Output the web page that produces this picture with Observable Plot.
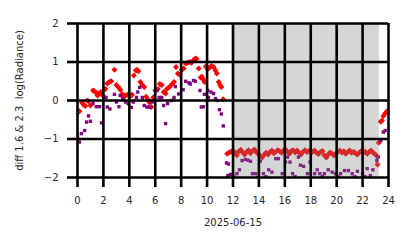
<!DOCTYPE html>
<html><head><meta charset="utf-8">
<script src="https://cdn.jsdelivr.net/npm/d3@7"></script>
<script src="https://cdn.jsdelivr.net/npm/@observablehq/plot@0.6"></script>
<style>body{margin:0;background:#fff}</style>
</head><body><div id="chart"></div>
<script>
const xTicks = [0, 2, 4, 6, 8, 10, 12, 14, 16, 18, 20, 22, 24];
const yTicks = [-2, -1, 0, 1, 2];
const xLabel = "2025-06-15";
const yLabel = "diff 1.6 & 2.3  log(Radiance)";
const nightBand = [{start: 11.95, end: 23.3}];

const redHours = [0.05,0.15,0.35,0.5,0.6,0.75,0.85,1.0,1.2,1.3,1.45,1.55,1.7,1.8,1.95,2.15,2.3,2.45,2.6,2.85,3.0,3.15,3.3,3.45,3.55,3.7,3.85,3.95,4.1,4.2,4.35,4.5,4.6,4.7,4.85,5.0,5.15,5.3,5.45,5.55,5.7,5.85,6.0,6.2,6.35,6.5,6.65,6.8,6.9,7.1,7.3,7.45,7.6,7.75,7.9,8.05,8.2,8.35,8.5,8.65,8.8,8.95,9.1,9.2,9.35,9.5,9.6,9.7,9.8,9.9,10.05,10.2,10.35,10.5,10.65,10.75,10.9,11.0,11.1,11.25,
11.55,11.7,11.85,12.0,12.15,12.3,12.45,12.6,12.75,12.9,13.05,13.2,13.35,13.5,13.65,13.8,13.95,14.1,14.25,14.4,14.55,14.7,14.85,15.0,15.15,15.3,15.45,15.6,15.75,15.9,16.05,16.2,16.35,16.5,16.65,16.8,16.95,17.1,17.25,17.4,17.55,17.7,17.85,18.0,18.15,18.3,18.45,18.6,18.75,18.9,19.05,19.2,19.35,19.5,19.65,19.8,19.95,20.1,20.25,20.4,20.55,20.7,20.85,21.0,21.15,21.3,21.45,21.6,21.75,21.9,22.05,22.2,22.35,22.5,22.65,22.8,22.95,23.1,
23.15,23.25,23.4,23.5,23.6,23.75,23.9];
const redValues = [-0.30,-0.28,-0.06,-0.12,-0.14,0.0,-0.02,-0.13,0.26,0.24,0.20,0.13,0.18,0.22,0.13,0.30,0.44,0.48,0.50,0.80,0.40,0.35,0.28,0.17,0.08,0.13,0.15,0.13,0.12,0.15,0.65,0.78,0.80,0.76,0.48,0.40,0.35,0.10,0.02,-0.05,-0.17,0.08,0.26,0.30,0.43,0.40,0.22,0.18,0.30,0.35,0.43,0.48,0.87,0.70,0.66,0.80,0.83,0.96,0.98,1.0,0.98,1.05,1.09,1.08,0.83,0.60,0.62,0.55,0.48,0.88,0.82,0.86,0.90,0.87,0.78,0.70,0.48,0.40,0.35,0.03,
-1.38,-1.35,-1.33,-1.30,-1.36,-1.42,-1.32,-1.28,-1.35,-1.40,-1.33,-1.29,-1.37,-1.31,-1.27,-1.34,-1.39,-1.44,-1.48,-1.41,-1.36,-1.40,-1.34,-1.30,-1.37,-1.33,-1.29,-1.32,-1.36,-1.30,-1.27,-1.33,-1.38,-1.31,-1.29,-1.35,-1.30,-1.36,-1.40,-1.33,-1.29,-1.34,-1.31,-1.35,-1.33,-1.30,-1.36,-1.39,-1.34,-1.31,-1.42,-1.48,-1.40,-1.35,-1.38,-1.43,-1.37,-1.33,-1.30,-1.35,-1.32,-1.38,-1.34,-1.30,-1.36,-1.33,-1.37,-1.40,-1.35,-1.31,-1.36,-1.33,-1.38,-1.34,-1.30,-1.35,-1.39,-1.44,
-1.66,-1.10,-0.55,-0.52,-0.40,-0.33,-0.27];

const purpleHours = [0.0,0.15,0.3,0.55,0.7,0.85,1.0,1.2,1.45,1.7,1.85,2.2,2.3,2.5,2.85,3.0,3.2,3.3,3.5,3.7,3.9,4.15,4.3,4.55,4.65,4.8,5.0,5.15,5.35,5.55,5.75,5.9,6.15,6.3,6.5,6.65,6.8,6.95,7.25,7.45,7.55,7.8,8.15,8.35,8.6,8.7,8.95,9.1,9.45,9.55,9.7,9.8,10.05,10.1,10.3,10.5,10.65,10.8,10.95,11.1,11.25,11.5,11.6,11.65,
11.8,12.05,12.3,12.5,12.7,12.95,13.15,13.35,13.5,13.75,13.9,14.1,14.35,14.55,14.75,15.0,15.3,15.5,15.8,16.05,16.2,16.4,16.6,16.8,17.05,17.2,17.45,17.75,17.95,18.3,18.5,18.7,18.9,19.05,19.35,19.65,19.9,20.1,20.3,20.6,20.9,21.2,21.4,21.6,22.0,22.2,22.35,22.6,22.8,23.1,23.2,23.4,23.6,23.75];
const purpleValues = [-0.95,-1.08,-0.86,-0.78,-0.56,-0.40,-0.54,-0.08,-0.16,-0.16,-0.58,0.08,-0.17,-0.22,0.16,-0.04,-0.16,0.13,0.04,-0.04,-0.08,-0.18,-0.04,0.08,0.22,0.34,0.08,-0.13,-0.17,-0.17,-0.04,0.0,0.26,0.08,0.08,-0.13,-0.60,-0.08,0.0,0.08,0.36,0.17,0.28,0.50,0.46,0.43,0.52,0.50,0.26,-0.17,-0.16,0.16,0.26,0.08,0.22,0.18,0.05,0.0,-0.24,-0.35,-0.66,-1.62,-1.95,-1.65,
-1.92,-1.98,-1.90,-1.80,-1.56,-1.53,-1.55,-1.58,-1.90,-1.90,-2.0,-1.58,-1.90,-1.98,-1.80,-1.86,-1.51,-1.51,-1.90,-1.60,-1.47,-1.60,-1.90,-1.98,-1.47,-1.68,-1.71,-1.90,-1.60,-1.90,-1.80,-1.90,-1.98,-1.90,-1.80,-1.86,-1.90,-1.98,-1.90,-1.82,-1.82,-1.90,-1.98,-1.84,-1.90,-1.98,-1.77,-1.95,-1.80,-1.56,-1.47,-1.04,-0.82,-0.78];

const red = redHours.map((h, i) => ({h, v: redValues[i]}));
const purple = purpleHours.map((h, i) => ({h, v: purpleValues[i]}));

const chart = Plot.plot({
  width: 414, height: 248,
  marginLeft: 77, marginRight: 26, marginTop: 23, marginBottom: 71,
  style: {fontFamily: "DejaVu Sans", fontSize: "10px", color: "#262626", background: "white"},
  x: {domain: [0, 24]},
  y: {domain: [-2, 2]},
  marks: [
    Plot.dot(red, {x: "h", y: "v", symbol: "diamond2", r: 2.7, fill: "red", clip: true}),
    Plot.dot(purple, {x: "h", y: "v", symbol: "square", r: 1.9, fill: "purple", clip: true}),
    Plot.rect(nightBand, {x1: "start", x2: "end", fill: "#808080", fillOpacity: 0.32}),
    Plot.ruleX(xTicks, {stroke: "black", strokeWidth: 2.6}),
    Plot.ruleY(yTicks, {stroke: "black", strokeWidth: 2.6}),
    Plot.axisX(xTicks, {tickSize: 10, stroke: "black", strokeWidth: 2.6, tickPadding: 9, label: xLabel, labelArrow: "none", labelAnchor: "center", labelOffset: 48, fontSize: 10}),
    Plot.axisY(yTicks, {tickSize: 10, stroke: "black", strokeWidth: 2.6, tickPadding: 9, label: yLabel, labelArrow: "none", labelAnchor: "center", labelOffset: 62, fontSize: 10})
  ]
});
document.getElementById("chart").appendChild(chart);
</script>
</body></html>
